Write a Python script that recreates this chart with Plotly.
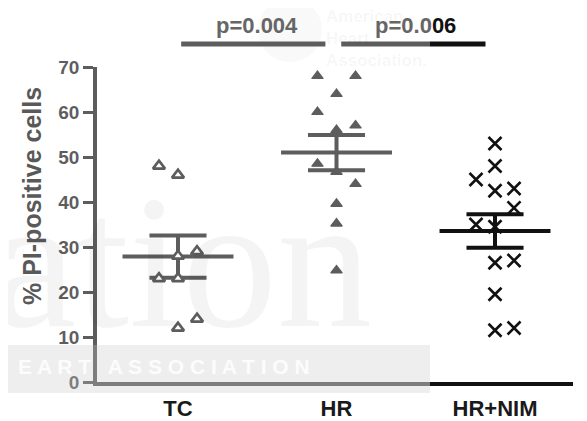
import numpy as np
import plotly.graph_objects as go

# ---------------- data ----------------
categories = ["TC", "HR", "HR+NIM"]
tc_values = [48, 46, 29, 28, 23, 23, 12, 14]
hr_values = [68, 68, 64, 60, 57, 56, 48.5, 46.7, 44, 39.6, 35.2, 24.8]
hrnim_values = [53, 48, 45, 42.5, 43, 38.7, 35, 34.5, 26.5, 27, 19.5, 11.5, 12]
p_labels = ["p=0.004", "p=0.0<span style='color:#111111'>06</span>"]
y_ticks = [0, 10, 20, 30, 40, 50, 60, 70]
y_title = "% PI-positive cells"

# horizontal scatter offsets of the points (style only)
tc_jitter = [-0.12, 0, 0.12, 0, -0.12, 0, 0, 0.12]
hr_jitter = [-0.12, 0.12, 0, -0.12, 0.12, 0, -0.12, 0, 0.12, 0, 0, 0]
hrnim_jitter = [0, 0, -0.12, 0, 0.12, 0.12, -0.12, 0, 0, 0.12, 0, 0, 0.12]

INK = "#111111"
FONT = "Liberation Sans"


def mean_sem(v):
    a = np.asarray(v, dtype=float)
    return a.mean(), a.std(ddof=1) / np.sqrt(len(a))


def bar_lines(c, vals):
    m, s = mean_sem(vals)
    w, cw = 0.35, 0.18
    xs = [c - w, c + w, None, c - cw, c + cw, None, c - cw, c + cw, None, c, c]
    ys = [m, m, None, m + s, m + s, None, m - s, m - s, None, m - s, m + s]
    return xs, ys


fig = go.Figure()

groups = [
    (0, tc_values, tc_jitter, dict(symbol="triangle-up", size=10.5, color="white",
                                   line=dict(color=INK, width=2.6))),
    (1, hr_values, hr_jitter, dict(symbol="triangle-up", size=10, color=INK,
                                   line=dict(color=INK, width=1.2))),
    (2, hrnim_values, hrnim_jitter, dict(symbol="x-thin-open", size=13, color=INK,
                                         line=dict(color=INK, width=2.6))),
]

for c, vals, jit, mk in groups:
    xs, ys = bar_lines(c, vals)
    fig.add_trace(go.Scatter(x=xs, y=ys, mode="lines",
                             line=dict(color=INK, width=4),
                             hoverinfo="skip", showlegend=False, cliponaxis=False))
for c, vals, jit, mk in groups:
    fig.add_trace(go.Scatter(x=[c + j for j in jit], y=vals, mode="markers",
                             marker=mk, showlegend=False, cliponaxis=False))

# The page body has an 8px margin: the figure starts at window pixel (8, 8).
OFF = 8
W, H = 587 - OFF, 421 - OFF
# plot area in window pixels: x 97..573, y 67..382
L, R, T, B = 97 - OFF, 587 - 573, 67 - OFF, 421 - 382
PW, PH = W - L - R, H - T - B


def px(xw):
    return (xw - OFF - L) / PW


def py(yw):
    return (H - B - (yw - OFF)) / PH


shapes = [
    # faint logo circle of the watermark
    dict(type="circle", xref="paper", yref="paper", x0=px(258), x1=px(322),
         y0=py(62), y1=py(-2), fillcolor="rgba(0,0,0,0.035)", line=dict(width=0),
         layer="below"),
]
# significance bars
for x0, x1 in [(0.02, 0.93), (1.03, 1.94)]:
    shapes.append(dict(type="line", xref="x", yref="paper", x0=x0, x1=x1,
                       y0=py(44), y1=py(44), line=dict(color=INK, width=5),
                       layer="above"))
# watermark lightening overlay
shapes.append(dict(type="rect", xref="paper", yref="paper", x0=px(0), x1=px(430),
                   y0=py(393), y1=py(0), fillcolor="rgba(255,255,255,0.32)",
                   line=dict(width=0), layer="above"))
# watermark band
shapes.append(dict(type="rect", xref="paper", yref="paper", x0=px(0), x1=px(430),
                   y0=py(393), y1=py(345), fillcolor="rgba(200,200,200,0.3)",
                   line=dict(width=0), layer="above"))

annotations = [
    dict(text=p_labels[0], x=0.5, xref="x", y=py(25), yref="paper",
         xanchor="center", yanchor="middle", showarrow=False,
         font=dict(family=FONT, size=22, color="#666666", weight="bold")),
    dict(text=p_labels[1], x=1.5, xref="x", y=py(25), yref="paper",
         xanchor="center", yanchor="middle", showarrow=False,
         font=dict(family=FONT, size=22, color="#666666", weight="bold")),
    dict(text=y_title, x=px(32), xref="paper", y=py(196), yref="paper",
         xanchor="center", yanchor="middle", textangle=-90, showarrow=False,
         font=dict(family=FONT, size=25, color="#595959", weight="bold")),
    # faint watermark text
    dict(text="ation", x=px(374), xref="paper", xanchor="right", y=py(262), yref="paper",
         yanchor="middle", showarrow=False,
         font=dict(family="Liberation Serif", size=190, color="rgba(0,0,0,0.045)")),
    dict(text="E A R T   A S S O C I A T I O N", x=px(312), xref="paper", xanchor="right",
         y=py(366), yref="paper", yanchor="middle", showarrow=False,
         font=dict(family=FONT, size=21, color="rgba(255,255,255,0.85)", weight="bold")),
    dict(text="American<br>Heart<br>Association.", x=px(324), xref="paper", xanchor="left",
         y=py(38), yref="paper", yanchor="middle", showarrow=False, align="left",
         font=dict(family=FONT, size=17, color="rgba(0,0,0,0.05)", weight="bold")),
]

fig.update_layout(
    width=W, height=H,
    margin=dict(l=L, r=R, t=T, b=B, autoexpand=False),
    paper_bgcolor="white", plot_bgcolor="white",
    showlegend=False,
    shapes=shapes,
    annotations=annotations,
    xaxis=dict(range=[-0.511, 2.492], tickvals=[0, 1, 2], ticktext=categories,
               automargin=False,
               showline=True, linecolor=INK, linewidth=3.5, showgrid=False,
               zeroline=False, ticks="outside", ticklen=4, tickcolor="rgba(0,0,0,0)",
               tickfont=dict(family=FONT, size=22, color="#1a1a1a", weight="bold")),
    yaxis=dict(range=[0, 70], tickvals=y_ticks, showline=True, linecolor=INK,
               automargin=False,
               linewidth=3.5, showgrid=False, zeroline=False, ticks="outside",
               ticklen=10, tickwidth=3, tickcolor=INK,
               tickfont=dict(family=FONT, size=19, color=INK, weight="bold")),
)

fig.write_html("out.html")
